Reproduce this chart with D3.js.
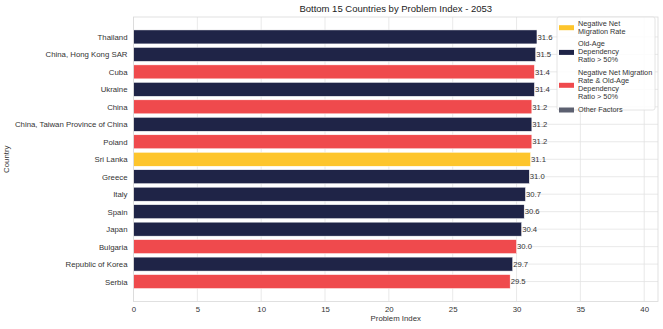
<!DOCTYPE html>
<html>
<head>
<meta charset="utf-8">
<script src="https://cdn.jsdelivr.net/npm/d3@7"></script>
<style>
body { margin: 0; background: #fff; }
svg { font-family: "Liberation Sans", Arial, sans-serif; }
</style>
</head>
<body>
<div id="chart"></div>
<script>
var width = 663;
var height = 329;

var countries = ["Thailand", "China, Hong Kong SAR", "Cuba", "Ukraine", "China",
    "China, Taiwan Province of China", "Poland", "Sri Lanka", "Greece", "Italy",
    "Spain", "Japan", "Bulgaria", "Republic of Korea", "Serbia"];
var values = [31.6, 31.5, 31.4, 31.4, 31.2, 31.2, 31.2, 31.1, 31.0, 30.7, 30.6, 30.4, 30.0, 29.7, 29.5];
// 0 = negative migration, 1 = old-age, 2 = both, 3 = other
var groups = [1, 1, 2, 1, 2, 1, 2, 0, 1, 1, 1, 1, 2, 1, 2];
var groupNames = [["Negative Net", "Migration Rate"], ["Old-Age", "Dependency", "Ratio > 50%"],
    ["Negative Net Migration", "Rate & Old-Age", "Dependency", "Ratio > 50%"], ["Other Factors"]];
var groupColors = ["#fdc52c", "#1f2447", "#ef4a4d", "#5c6070"];
var xTicks = [0, 5, 10, 15, 20, 25, 30, 35, 40];

var margin = {left: 133.5, right: 5, top: 17, bottom: 27.5};

var svg = d3.select("#chart").append("svg")
    .attr("width", width)
    .attr("height", height);

var x = d3.scaleLinear()
    .domain([0, d3.max(values) * 1.3])
    .range([margin.left, width - margin.right]);

// matplotlib style: bars of 0.8 with 5% margins
var n = countries.length;
var span = (n - 1) + 0.8;
var pad = span * 0.05;
var y = d3.scaleLinear()
    .domain([-0.4 - pad, n - 1 + 0.4 + pad])
    .range([margin.top, height - margin.bottom]);

// grid
svg.append("g").selectAll("line")
    .data(xTicks)
    .enter().append("line")
    .attr("x1", function(d){ return x(d); })
    .attr("x2", function(d){ return x(d); })
    .attr("y1", margin.top)
    .attr("y2", height - margin.bottom)
    .attr("stroke", "#e3e3e3")
    .attr("stroke-width", 0.8);

svg.append("g").selectAll("line")
    .data(countries)
    .enter().append("line")
    .attr("x1", margin.left)
    .attr("x2", width - margin.right)
    .attr("y1", function(d, i){ return y(i); })
    .attr("y2", function(d, i){ return y(i); })
    .attr("stroke", "#e3e3e3")
    .attr("stroke-width", 0.8);

// bars
svg.append("g").selectAll("rect")
    .data(values)
    .enter().append("rect")
    .attr("x", x(0))
    .attr("y", function(d, i){ return y(i - 0.4); })
    .attr("width", function(d){ return x(d) - x(0); })
    .attr("height", function(d, i){ return y(i + 0.4) - y(i - 0.4); })
    .attr("fill", function(d, i){ return groupColors[groups[i]]; })
    .attr("stroke", "#ffffff")
    .attr("stroke-width", 0.5);

// value labels
svg.append("g").selectAll("text")
    .data(values)
    .enter().append("text")
    .attr("x", function(d){ return x(d) + 0.5; })
    .attr("y", function(d, i){ return y(i); })
    .attr("dy", "0.35em")
    .attr("font-size", 7.7)
    .attr("fill", "#333")
    .text(function(d){ return d.toFixed(1); });

// frame
svg.append("rect")
    .attr("x", margin.left)
    .attr("y", margin.top)
    .attr("width", width - margin.right - margin.left)
    .attr("height", height - margin.bottom - margin.top)
    .attr("fill", "none")
    .attr("stroke", "#d9d9d9")
    .attr("stroke-width", 0.8);

// axes
var xAxis = svg.append("g")
    .attr("transform", "translate(0," + (height - margin.bottom) + ")")
    .call(d3.axisBottom(x).tickValues(xTicks).tickSize(0).tickPadding(5));
xAxis.select(".domain").remove();
xAxis.selectAll("text").attr("font-size", 7.8).attr("fill", "#333").attr("font-family", "Liberation Sans, Arial, sans-serif");

var yAxis = svg.append("g")
    .attr("transform", "translate(" + margin.left + ",0)")
    .call(d3.axisLeft(y).tickValues(d3.range(n)).tickFormat(function(i){ return countries[i]; })
        .tickSize(0).tickPadding(6));
yAxis.select(".domain").remove();
yAxis.selectAll("text").attr("font-size", 7.8).attr("fill", "#333").attr("font-family", "Liberation Sans, Arial, sans-serif");

// titles
svg.append("text")
    .attr("x", (margin.left + width - margin.right) / 2)
    .attr("y", 12)
    .attr("text-anchor", "middle")
    .attr("font-size", 9.5)
    .attr("fill", "#222")
    .text("Bottom 15 Countries by Problem Index - 2053");

svg.append("text")
    .attr("x", (margin.left + width - margin.right) / 2)
    .attr("y", 321)
    .attr("text-anchor", "middle")
    .attr("font-size", 7.8)
    .attr("fill", "#333")
    .text("Problem Index");

svg.append("text")
    .attr("transform", "translate(9," + ((margin.top + height - margin.bottom) / 2) + ") rotate(-90)")
    .attr("text-anchor", "middle")
    .attr("font-size", 7.8)
    .attr("fill", "#333")
    .text("Country");

// legend
var legend = svg.append("g").attr("transform", "translate(557,17)");
legend.append("rect")
    .attr("width", 98)
    .attr("height", 93)
    .attr("rx", 2)
    .attr("fill", "#fff")
    .attr("fill-opacity", 0.85)
    .attr("stroke", "#dddddd")
    .attr("stroke-width", 0.8);

var lineH = 8.2;
var yPos = 2;
groupNames.forEach(function(lines, gi){
    var blockH = lines.length * lineH;
    var item = legend.append("g").attr("transform", "translate(0," + yPos + ")");
    item.append("rect")
        .attr("x", 2)
        .attr("y", blockH / 2 - 2)
        .attr("width", 15)
        .attr("height", 5)
        .attr("fill", groupColors[gi]);
    lines.forEach(function(t, li){
        item.append("text")
            .attr("x", 21)
            .attr("y", li * lineH + 6.5)
            .attr("font-size", 7.3)
            .attr("fill", "#333")
            .text(t);
    });
    yPos += blockH + 4.2;
});
</script>
</body>
</html>
